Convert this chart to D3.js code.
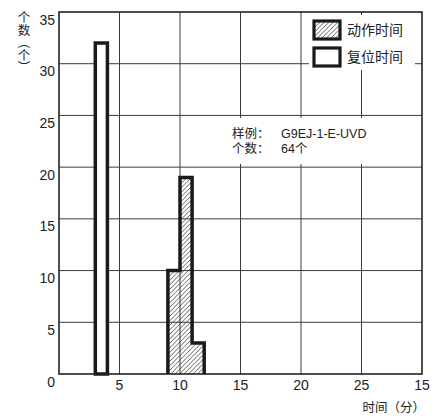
<!DOCTYPE html>
<html>
<head>
<meta charset="utf-8">
<script src="https://cdn.jsdelivr.net/npm/d3@7"></script>
<style>
  html, body { margin: 0; padding: 0; background: #fff; }
  text { font-family: "Liberation Sans", "Noto Sans CJK SC", sans-serif; fill: #222; }
  .cjk { font-family: "Noto Sans CJK SC", sans-serif; }
</style>
</head>
<body>
<div id="wrapper"></div>
<script>
// 数据
const operateStart = [9, 10, 11];    // 动作时间 bins (分)
const operateCount = [10, 19, 3];
const resetStart = [3];              // 复位时间 bins (分)
const resetCount = [32];
const binWidth = 1;
const xTicks = [5, 10, 15, 20, 25, 30];
const xTickLabels = ["5", "10", "15", "20", "25", "15"];
const yTicks = [0, 5, 10, 15, 20, 25, 30, 35];
const legendLabels = ["动作时间", "复位时间"];
const noteLabels = [["样例：", "G9EJ-1-E-UVD"], ["个数：", "64个"]];

function draw() {
  const dimensions = {
    width: 440,
    height: 416,
    margin: { top: 12, right: 18, bottom: 42, left: 59 }
  };
  const plotW = dimensions.width - dimensions.margin.left - dimensions.margin.right;
  const plotH = dimensions.height - dimensions.margin.top - dimensions.margin.bottom;

  const svg = d3.select("#wrapper").append("svg")
    .attr("width", dimensions.width)
    .attr("height", dimensions.height);

  const x = d3.scaleLinear().domain([0, 30]).range([dimensions.margin.left, dimensions.margin.left + plotW]);
  const y = d3.scaleLinear().domain([0, 35]).range([dimensions.margin.top + plotH, dimensions.margin.top]);

  // 斜线填充
  svg.append("defs").append("pattern")
      .attr("id", "hatch")
      .attr("patternUnits", "userSpaceOnUse")
      .attr("width", 4.5).attr("height", 4.5)
    .append("path")
      .attr("d", "M-1,1 l2,-2 M0,4.5 l4.5,-4.5 M3.5,5.5 l2,-2")
      .attr("stroke", "#333")
      .attr("stroke-width", 0.8);

  // 水平网格
  svg.append("g").attr("stroke", "#3a3a3a").attr("stroke-width", 1)
    .selectAll("line").data(yTicks.slice(1, -1)).join("line")
    .attr("x1", x(0)).attr("x2", x(30))
    .attr("y1", d => y(d)).attr("y2", d => y(d));

  // 动作时间 (填充)
  svg.append("g").selectAll("rect").data(operateStart).join("rect")
    .attr("x", d => x(d))
    .attr("y", (d, i) => y(operateCount[i]))
    .attr("width", d => x(d + binWidth) - x(d))
    .attr("height", (d, i) => y(0) - y(operateCount[i]))
    .attr("fill", "url(#hatch)")
    .attr("stroke", "none");

  // 垂直网格
  svg.append("g").attr("stroke", "#3a3a3a").attr("stroke-width", 1)
    .selectAll("line").data(xTicks.slice(0, -1)).join("line")
    .attr("x1", d => x(d)).attr("x2", d => x(d))
    .attr("y1", y(0)).attr("y2", y(35));

  // 图例/注释的白底
  svg.append("rect").attr("x", 309).attr("y", 15).attr("width", 106).attr("height", 55).attr("fill", "#fff");
  svg.append("rect").attr("x", 226).attr("y", 118).attr("width", 142).attr("height", 46).attr("fill", "#fff");

  // 复位时间
  svg.append("g").selectAll("rect").data(resetStart).join("rect")
    .attr("x", d => x(d))
    .attr("y", (d, i) => y(resetCount[i]))
    .attr("width", d => x(d + binWidth) - x(d))
    .attr("height", (d, i) => y(0) - y(resetCount[i]))
    .attr("fill", "#fff")
    .attr("stroke", "#1a1a1a")
    .attr("stroke-width", 3.5);

  // 动作时间外轮廓
  const outline = [[operateStart[0], 0]];
  operateStart.forEach((d, i) => {
    outline.push([d, operateCount[i]]);
    outline.push([d + binWidth, operateCount[i]]);
  });
  outline.push([operateStart[operateStart.length - 1] + binWidth, 0]);
  svg.append("path")
    .attr("d", d3.line().x(d => x(d[0])).y(d => y(d[1]))(outline))
    .attr("fill", "none")
    .attr("stroke", "#1a1a1a")
    .attr("stroke-width", 3.5)
    .attr("stroke-linejoin", "miter");

  // 边框
  svg.append("rect")
    .attr("x", x(0)).attr("y", y(35))
    .attr("width", x(30) - x(0)).attr("height", y(0) - y(35))
    .attr("fill", "none")
    .attr("stroke", "#222")
    .attr("stroke-width", 1.6);

  // 刻度
  svg.append("g").selectAll("text").data(yTicks).join("text")
    .attr("x", dimensions.margin.left - 4)
    .attr("y", d => y(d) + 12.5)
    .attr("text-anchor", "end")
    .attr("font-size", 14)
    .text(d => d);
  svg.append("g").selectAll("text").data(xTicks).join("text")
    .attr("x", d => x(d))
    .attr("y", y(0) + 16)
    .attr("text-anchor", "middle")
    .attr("font-size", 14)
    .text((d, i) => xTickLabels[i]);

  // 轴标题
  svg.append("text")
    .attr("class", "cjk")
    .attr("x", 425).attr("y", 412)
    .attr("text-anchor", "end")
    .attr("font-size", 12.5)
    .text("时间（分）");
  svg.append("text")
    .attr("class", "cjk")
    .attr("x", 24).attr("y", 11)
    .attr("writing-mode", "vertical-rl")
    .attr("font-size", 12.5)
    .text("个数（个）");

  // 图例
  const legend = svg.append("g");
  legend.selectAll("rect").data(legendLabels).join("rect")
    .attr("x", 314).attr("y", (d, i) => 21 + i * 27)
    .attr("width", 26).attr("height", 18)
    .attr("fill", (d, i) => i === 0 ? "url(#hatch)" : "#fff")
    .attr("stroke", "#1a1a1a")
    .attr("stroke-width", 3.2);
  legend.selectAll("text").data(legendLabels).join("text")
    .attr("class", "cjk")
    .attr("x", 347).attr("y", (d, i) => 35 + i * 27)
    .attr("font-size", 14)
    .text(d => d);

  // 注释
  const note = svg.append("g").attr("font-size", 12.5);
  noteLabels.forEach((row, i) => {
    note.append("text").attr("x", 232).attr("y", 138 + i * 15).text(row[0]);
    note.append("text").attr("x", 281).attr("y", 138 + i * 15).text(row[1]);
  });
}
draw();
</script>
</body>
</html>
